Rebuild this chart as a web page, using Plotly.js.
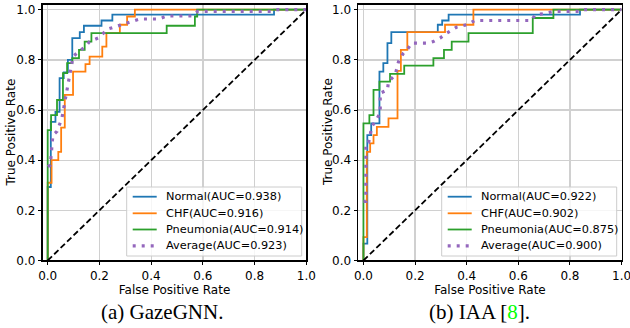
<!DOCTYPE html>
<html>
<head>
<meta charset="utf-8">
<script src="https://cdn.plot.ly/plotly-3.0.1.min.js"></script>
<style>
  html, body { margin: 0; padding: 0; background: #fff; }
  #chart { width: 630px; height: 328px; }
</style>
</head>
<body>
<div id="chart"></div>
<script>
// ---------- (a) GazeGNN ----------
const gazeNormalFpr = [0, 0, 0.012, 0.012, 0.03, 0.03, 0.046, 0.046, 0.062, 0.062, 0.078, 0.078, 0.095, 0.095, 0.124, 0.124, 0.14, 0.14, 0.208, 0.208, 0.25, 0.25, 0.875, 0.875, 1.0];
const gazeNormalTpr = [0, 0.293, 0.293, 0.553, 0.553, 0.593, 0.593, 0.727, 0.727, 0.75, 0.75, 0.8, 0.8, 0.887, 0.887, 0.911, 0.911, 0.936, 0.936, 0.957, 0.957, 0.98, 0.98, 1.0, 1.0];

const gazeChfFpr = [0, 0, 0.015, 0.015, 0.041, 0.041, 0.052, 0.052, 0.066, 0.066, 0.098, 0.098, 0.146, 0.146, 0.162, 0.162, 0.211, 0.211, 0.227, 0.227, 0.279, 0.279, 0.307, 0.307, 0.337, 0.337, 1.0];
const gazeChfTpr = [0, 0.31, 0.31, 0.4, 0.4, 0.433, 0.433, 0.53, 0.53, 0.66, 0.66, 0.753, 0.753, 0.783, 0.783, 0.813, 0.813, 0.853, 0.853, 0.907, 0.907, 0.94, 0.94, 0.973, 0.973, 1.0, 1.0];

const gazePneuFpr = [0, 0, 0.013, 0.013, 0.036, 0.036, 0.059, 0.059, 0.075, 0.075, 0.095, 0.095, 0.121, 0.121, 0.143, 0.143, 0.169, 0.169, 0.46, 0.46, 0.569, 0.569, 0.578, 0.578, 1.0];
const gazePneuTpr = [0, 0.52, 0.52, 0.58, 0.58, 0.64, 0.64, 0.747, 0.747, 0.787, 0.787, 0.807, 0.807, 0.84, 0.84, 0.873, 0.873, 0.907, 0.907, 0.936, 0.936, 0.973, 0.973, 1.0, 1.0];

const gazeAvgFpr = [0, 0.01, 0.02, 0.036, 0.055, 0.068, 0.081, 0.094, 0.098, 0.12, 0.146, 0.162, 0.195, 0.233, 0.266, 0.298, 0.324, 0.356, 0.43, 0.46, 0.56, 0.58, 0.865, 0.88, 1.0];
const gazeAvgTpr = [0.374, 0.38, 0.5, 0.515, 0.568, 0.64, 0.707, 0.78, 0.813, 0.833, 0.853, 0.873, 0.887, 0.923, 0.933, 0.944, 0.953, 0.963, 0.963, 0.975, 0.975, 0.993, 0.993, 1.0, 1.0];

// ---------- (b) IAA ----------
const iaaNormalFpr = [0, 0, 0.015, 0.015, 0.03, 0.03, 0.062, 0.062, 0.077, 0.077, 0.093, 0.093, 0.108, 0.108, 0.288, 0.288, 0.305, 0.305, 0.33, 0.33, 0.839, 0.839, 1.0];
const iaaNormalTpr = [0, 0.067, 0.067, 0.5, 0.5, 0.547, 0.547, 0.753, 0.753, 0.787, 0.787, 0.867, 0.867, 0.911, 0.911, 0.94, 0.94, 0.957, 0.957, 0.98, 0.98, 1.0, 1.0];

const iaaChfFpr = [0, 0, 0.013, 0.013, 0.026, 0.026, 0.039, 0.039, 0.052, 0.052, 0.097, 0.097, 0.132, 0.132, 0.145, 0.145, 0.17, 0.17, 0.316, 0.316, 0.426, 0.426, 1.0];
const iaaChfTpr = [0, 0.093, 0.093, 0.433, 0.433, 0.467, 0.467, 0.5, 0.5, 0.533, 0.533, 0.567, 0.567, 0.756, 0.756, 0.84, 0.84, 0.911, 0.911, 0.94, 0.94, 1.0, 1.0];

const iaaPneuFpr = [0, 0, 0.023, 0.023, 0.039, 0.039, 0.062, 0.062, 0.103, 0.103, 0.158, 0.158, 0.271, 0.271, 0.312, 0.312, 0.342, 0.342, 0.407, 0.407, 0.656, 0.656, 0.736, 0.736, 1.0];
const iaaPneuTpr = [0, 0.547, 0.547, 0.58, 0.58, 0.68, 0.68, 0.713, 0.713, 0.744, 0.744, 0.777, 0.777, 0.807, 0.807, 0.84, 0.84, 0.873, 0.873, 0.907, 0.907, 0.967, 0.967, 1.0, 1.0];

const iaaAvgFpr = [0, 0.009, 0.009, 0.02, 0.026, 0.032, 0.065, 0.065, 0.093, 0.097, 0.123, 0.136, 0.155, 0.174, 0.187, 0.252, 0.271, 0.297, 0.323, 0.362, 0.4, 0.432, 0.652, 0.665, 0.697, 0.736, 0.835, 0.845, 1.0];
const iaaAvgTpr = [0.236, 0.236, 0.467, 0.47, 0.5, 0.533, 0.587, 0.667, 0.68, 0.713, 0.74, 0.793, 0.827, 0.847, 0.867, 0.867, 0.873, 0.887, 0.907, 0.931, 0.94, 0.957, 0.957, 0.98, 0.984, 0.993, 0.993, 1.0, 1.0];

// chance line
const chanceX = [0, 1];
const chanceY = [0, 1];

// labels
const classNames = ['Normal', 'CHF', 'Pneumonia', 'Average'];
const gazeAuc = ['0.938', '0.916', '0.914', '0.923'];
const iaaAuc = ['0.922', '0.902', '0.875', '0.900'];
const tickValues = [0, 0.2, 0.4, 0.6, 0.8, 1.0];
const tickLabels = ['0.0', '0.2', '0.4', '0.6', '0.8', '1.0'];
const xTitle = 'False Positive Rate';
const yTitle = 'True Positive Rate';
const captionA = '(a) GazeGNN.';
const captionB = '(b) IAA [<span style="color:#00ff00">8</span>].';

const colors = ['#1f77b4', '#ff7f0e', '#2ca02c', '#9467bd'];
const FONT = 'DejaVu Sans, Verdana, sans-serif';
const W = 630, H = 328;
const px = v => v / W;
const py = v => 1 - v / H;

const avgLine = c => ({color: c, width: 3.2, dash: '3px,6px'});
const solidLine = c => ({color: c, width: 1.8});

function curves(fprs, tprs, aucs, xa, ya) {
  const out = [];
  for (let i = 0; i < 4; i++) {
    out.push({
      x: fprs[i], y: tprs[i], type: 'scatter', mode: 'lines',
      xaxis: xa, yaxis: ya, showlegend: false,
      name: classNames[i] + '(AUC=' + aucs[i] + ')',
      line: i === 3 ? avgLine(colors[i]) : solidLine(colors[i]),
      hoverinfo: 'skip'
    });
  }
  out.push({
    x: chanceX, y: chanceY, type: 'scatter', mode: 'lines', xaxis: xa, yaxis: ya,
    showlegend: false, line: {color: '#000', width: 1.8, dash: '6px,3px'}, hoverinfo: 'skip'
  });
  return out;
}

const data = [].concat(
  curves([gazeNormalFpr, gazeChfFpr, gazePneuFpr, gazeAvgFpr],
         [gazeNormalTpr, gazeChfTpr, gazePneuTpr, gazeAvgTpr], gazeAuc, 'x', 'y'),
  curves([iaaNormalFpr, iaaChfFpr, iaaPneuFpr, iaaAvgFpr],
         [iaaNormalTpr, iaaChfTpr, iaaPneuTpr, iaaAvgTpr], iaaAuc, 'x2', 'y2')
);

const tickFont = {family: FONT, size: 12, color: '#000'};
const titleFont = {family: FONT, size: 12, color: '#000'};
function xAxis(domain, anchor) {
  return {
    domain: domain, anchor: anchor, range: [-0.02, 1.0005],
    tickvals: tickValues, ticktext: tickLabels, tickfont: tickFont, ticklabeloverflow: 'allow',
    ticks: 'outside', ticklen: 3.5, tickwidth: 1, tickcolor: '#000',
    showgrid: true, gridcolor: '#d0d0d0', gridwidth: 1.3, zeroline: false,
    showline: true, mirror: true, linecolor: '#000', linewidth: 1.2,
    title: {text: xTitle, font: titleFont, standoff: 0},
    automargin: false, fixedrange: true
  };
}
function yAxis(domain, anchor) {
  return {
    domain: domain, anchor: anchor, range: [0, 1.02],
    tickvals: tickValues, ticktext: tickLabels, tickfont: tickFont, ticklabeloverflow: 'allow',
    ticks: 'outside', ticklen: 3.5, tickwidth: 1, tickcolor: '#000',
    showgrid: true, gridcolor: '#d0d0d0', gridwidth: 1.3, zeroline: false,
    showline: true, mirror: true, linecolor: '#000', linewidth: 1.2,
    automargin: false, fixedrange: true
  };
}
const yDom = [0.2058, 0.9857];

// hand-placed legends (matplotlib style: compact rows)
const legendRows = [196.7, 213.3, 229.5, 245.8];
function legendParts(boxLeft, aucs) {
  const shapes = [{
    type: 'rect', xref: 'paper', yref: 'paper', layer: 'above',
    x0: px(boxLeft), x1: px(boxLeft + 175), y0: py(256), y1: py(187),
    line: {color: '#cccccc', width: 1}, fillcolor: 'rgba(255,255,255,0.8)'
  }];
  const anns = [];
  for (let i = 0; i < 4; i++) {
    shapes.push({
      type: 'line', xref: 'paper', yref: 'paper', layer: 'above',
      x0: px(boxLeft + 6), x1: px(boxLeft + 30), y0: py(legendRows[i]), y1: py(legendRows[i]),
      line: i === 3 ? avgLine(colors[i]) : solidLine(colors[i])
    });
    anns.push({
      text: classNames[i] + '(AUC=' + aucs[i] + ')', xref: 'paper', yref: 'paper',
      x: px(boxLeft + 37), y: py(legendRows[i]), xanchor: 'left', yanchor: 'middle',
      showarrow: false, font: {family: FONT, size: 11.3, color: '#000'}
    });
  }
  return {shapes, anns};
}
const legA = legendParts(126.7, gazeAuc);
const legB = legendParts(441.7, iaaAuc);

const yTitleAnn = xc => ({
  text: yTitle, xref: 'paper', yref: 'paper', x: px(xc), y: py(132.6),
  xanchor: 'center', yanchor: 'middle', textangle: -90, showarrow: false, font: titleFont
});

const captionFont = {family: 'Liberation Serif, Times New Roman, serif', size: 21, color: '#000'};
const layout = {
  width: W, height: H,
  margin: {l: 0, r: 0, t: 0, b: 0},
  paper_bgcolor: '#fff', plot_bgcolor: '#fff',
  showlegend: false,
  xaxis: xAxis([0.0675, 0.4865], 'y'),
  yaxis: yAxis(yDom, 'x'),
  xaxis2: xAxis([0.5687, 0.9868], 'y2'),
  yaxis2: yAxis(yDom, 'x2'),
  shapes: legA.shapes.concat(legB.shapes),
  annotations: legA.anns.concat(legB.anns, [
    yTitleAnn(11), yTitleAnn(327.5),
    {text: captionA, xref: 'paper', yref: 'paper', x: px(162), y: py(312), xanchor: 'center', yanchor: 'middle',
     showarrow: false, font: captionFont},
    {text: captionB, xref: 'paper', yref: 'paper', x: px(479), y: py(312), xanchor: 'center', yanchor: 'middle',
     showarrow: false, font: captionFont}
  ])
};

Plotly.newPlot('chart', data, layout, {staticPlot: true, displayModeBar: false});
</script>
</body>
</html>
